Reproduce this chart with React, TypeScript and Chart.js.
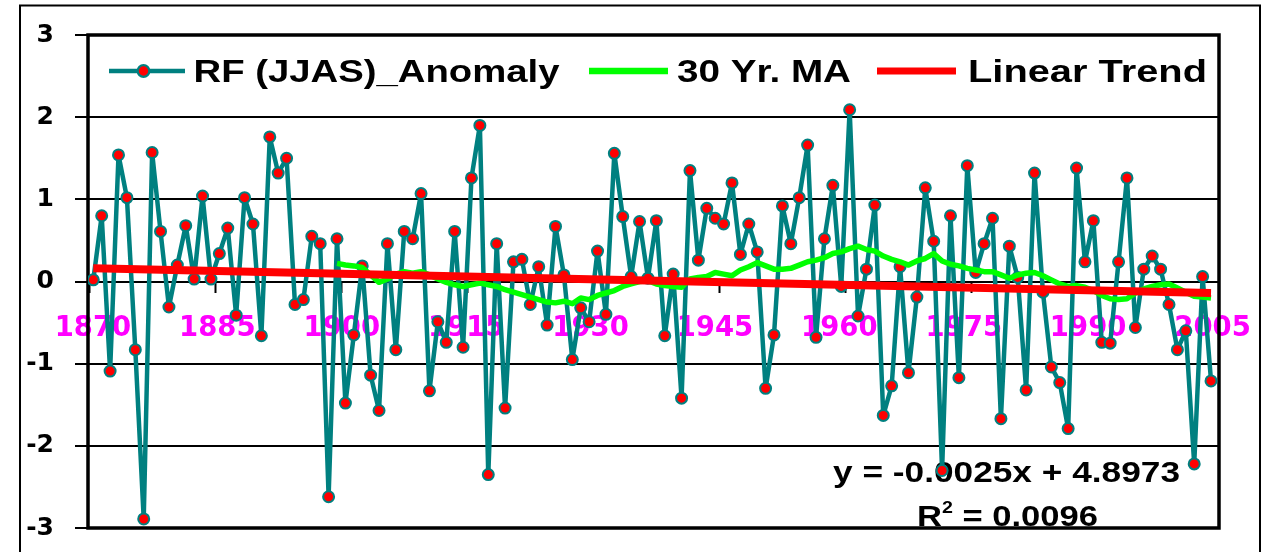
import { useEffect, useRef } from 'react';
import { Chart, registerables } from 'chart.js';

Chart.register(...registerables);

// ---- data -------------------------------------------------------------
// JJAS rainfall anomaly, one value per year starting 1871
const FIRST_YEAR = 1871;
const rfAnomaly = [
  0.02, 0.80, -1.09, 1.54, 1.02, -0.83, -2.89, 1.57, 0.61, -0.31,
  0.20, 0.68, 0.03, 1.04, 0.03, 0.34, 0.65, -0.41, 1.02, 0.70,
  -0.66, 1.76, 1.32, 1.50, -0.28, -0.22, 0.55, 0.46, -2.62, 0.52,
  -1.48, -0.65, 0.19, -1.14, -1.57, 0.46, -0.83, 0.61, 0.52, 1.07,
  -1.33, -0.49, -0.74, 0.61, -0.80, 1.26, 1.90, -2.35, 0.46, -1.54,
  0.24, 0.27, -0.28, 0.18, -0.53, 0.67, 0.08, -0.95, -0.32, -0.49,
  0.37, -0.40, 1.56, 0.79, 0.06, 0.73, 0.04, 0.74, -0.66, 0.09,
  -1.42, 1.35, 0.26, 0.89, 0.77, 0.70, 1.20, 0.33, 0.70, 0.36,
  -1.30, -0.65, 0.92, 0.46, 1.02, 1.66, -0.68, 0.52, 1.17, -0.06,
  2.09, -0.42, 0.15, 0.93, -1.63, -1.27, 0.18, -1.11, -0.19, 1.14,
  0.49, -2.30, 0.80, -1.17, 1.41, 0.11, 0.46, 0.77, -1.67, 0.43,
  0.05, -1.32, 1.32, -0.13, -1.04, -1.23, -1.79, 1.38, 0.24, 0.74,
  -0.74, -0.75, 0.24, 1.26, -0.56, 0.15, 0.31, 0.15, -0.28, -0.83,
  -0.60, -2.22, 0.06, -1.21,
];

// 30-year moving average, first value at 1900
const MA_START_YEAR = 1900;
const movingAvg30 = [
  0.22, 0.20, 0.19, 0.17, 0.08, -0.01, 0.03, 0.09, 0.12, 0.10,
  0.12, 0.08, 0.03, -0.01, -0.04, -0.06, -0.04, -0.02, -0.04, -0.06,
  -0.10, -0.13, -0.16, -0.19, -0.22, -0.25, -0.26, -0.24, -0.27, -0.20,
  -0.22, -0.17, -0.14, -0.11, -0.06, -0.03, 0.00, 0.01, -0.03, -0.05,
  -0.06, -0.07, 0.03, 0.05, 0.06, 0.11, 0.09, 0.07, 0.14, 0.18,
  0.23, 0.19, 0.15, 0.15, 0.16, 0.20, 0.24, 0.26, 0.29, 0.34,
  0.36, 0.40, 0.43, 0.39, 0.37, 0.31, 0.27, 0.24, 0.20, 0.25,
  0.28, 0.34, 0.25, 0.21, 0.19, 0.16, 0.14, 0.12, 0.12, 0.08,
  0.04, 0.08, 0.10, 0.11, 0.07, 0.02, -0.03, -0.06, -0.05, -0.07,
  -0.11, -0.17, -0.21, -0.22, -0.21, -0.14, -0.09, -0.06, -0.04, -0.03,
  -0.08, -0.13, -0.18, -0.19, -0.20,
];

// linear trend end points
const trendYears = [1871, 2004];
const trendValues = [0.16, -0.14];

// axis labels
const yearTickLabels = [1870, 1885, 1900, 1915, 1930, 1945, 1960, 1975, 1990, 2005];
const Y_MIN = -3;
const Y_MAX = 3;

const legendLabels = ['RF (JJAS)_Anomaly', '30 Yr. MA', 'Linear Trend'];
const equationText = 'y = -0.0025x + 4.8973';
const rSquaredValue = '0.0096';

// ---- styling / layout -------------------------------------------------
const W = 1263;
const H = 552;
const TEAL = '#008080';
const MARKER_RED = '#FF0000';
const MA_GREEN = '#00FF00';
const TREND_RED = '#FF0000';
const MAGENTA = '#FF00FF';
const TEXT_FONT = '"Liberation Sans", Arial, Helvetica, sans-serif';
const TICK_FONT = '"DejaVu Sans", "Liberation Sans", sans-serif';

type Run = { text: string; size: number; rise?: number };

// Bold text squeezed/stretched horizontally to a given width
function drawRuns(
  ctx: CanvasRenderingContext2D,
  runs: Run[],
  left: number,
  baseline: number,
  width: number,
  color = '#000'
) {
  let natural = 0;
  for (const r of runs) {
    ctx.font = `bold ${r.size}px ${TEXT_FONT}`;
    natural += ctx.measureText(r.text).width;
  }
  const sx = width / natural;
  ctx.save();
  ctx.translate(left, baseline);
  ctx.scale(sx, 1);
  ctx.fillStyle = color;
  ctx.textAlign = 'left';
  ctx.textBaseline = 'alphabetic';
  let cx = 0;
  for (const r of runs) {
    ctx.font = `bold ${r.size}px ${TEXT_FONT}`;
    ctx.fillText(r.text, cx, -(r.rise || 0));
    cx += ctx.measureText(r.text).width;
  }
  ctx.restore();
}

// plot frame and regression text sit under the series
const framePlugin = {
  id: 'frameAndEquation',
  beforeDatasetsDraw(chart: any) {
    const { ctx, chartArea: a } = chart;
    ctx.save();
    ctx.strokeStyle = '#000';
    ctx.lineWidth = 3.5;
    ctx.strokeRect(a.left, a.top, a.right - a.left, a.bottom - a.top);
    ctx.restore();

    drawRuns(ctx, [{ text: equationText, size: 30 }], 833, 481.5, 347);
    drawRuns(
      ctx,
      [
        { text: 'R', size: 30 },
        { text: '2', size: 17, rise: 13 },
        { text: ' = ' + rSquaredValue, size: 30 },
      ],
      917,
      526,
      181
    );
  },
};

// legend row and outer chart border on top
const overlayPlugin = {
  id: 'legendAndBorder',
  afterDraw(chart: any) {
    const { ctx } = chart;
    const ly = 71;
    ctx.save();
    ctx.lineCap = 'butt';

    // anomaly: line with marker
    ctx.strokeStyle = TEAL;
    ctx.lineWidth = 4.5;
    ctx.beginPath();
    ctx.moveTo(109, ly);
    ctx.lineTo(185, ly);
    ctx.stroke();
    ctx.beginPath();
    ctx.arc(143.5, ly, 5.8, 0, Math.PI * 2);
    ctx.fillStyle = MARKER_RED;
    ctx.fill();
    ctx.lineWidth = 2.2;
    ctx.strokeStyle = TEAL;
    ctx.stroke();

    // moving average
    ctx.strokeStyle = MA_GREEN;
    ctx.lineWidth = 6.5;
    ctx.beginPath();
    ctx.moveTo(589, ly);
    ctx.lineTo(668, ly);
    ctx.stroke();

    // trend
    ctx.strokeStyle = TREND_RED;
    ctx.lineWidth = 7;
    ctx.beginPath();
    ctx.moveTo(877, ly);
    ctx.lineTo(956, ly);
    ctx.stroke();
    ctx.restore();

    drawRuns(ctx, [{ text: legendLabels[0], size: 31 }], 193.5, 81.5, 366);
    drawRuns(ctx, [{ text: legendLabels[1], size: 31 }], 677, 81.5, 174);
    drawRuns(ctx, [{ text: legendLabels[2], size: 31 }], 968, 81.5, 239);

    ctx.save();
    ctx.strokeStyle = '#000';
    ctx.lineWidth = 2;
    ctx.strokeRect(20, 5.5, 1240, 600);
    ctx.restore();
  },
};

// keep label overhang from shrinking the plot area
const noOverhang = (scale: any) => {
  scale.paddingLeft = 0;
  scale.paddingRight = 0;
  scale.paddingTop = 0;
  scale.paddingBottom = 0;
};

export default function App() {
  const canvasRef = useRef<HTMLCanvasElement>(null);

  useEffect(() => {
    const canvas = canvasRef.current;
    if (!canvas) return;

    const anomalyPoints = rfAnomaly.map((v, i) => ({ x: FIRST_YEAR + i, y: v }));
    const maPoints = movingAvg30.map((v, i) => ({ x: MA_START_YEAR + i, y: v }));
    const trendPoints = trendValues.map((v, i) => ({ x: trendYears[i], y: v }));

    const chart = new Chart(canvas, {
      type: 'line',
      data: {
        datasets: [
          {
            label: legendLabels[0],
            data: anomalyPoints,
            borderColor: TEAL,
            borderWidth: 4.5,
            borderJoinStyle: 'round',
            pointRadius: 5.5,
            pointBorderWidth: 2,
            pointBackgroundColor: MARKER_RED,
            pointBorderColor: TEAL,
            tension: 0,
            order: 3,
          },
          {
            label: legendLabels[1],
            data: maPoints,
            borderColor: MA_GREEN,
            borderWidth: 5.5,
            borderJoinStyle: 'round',
            pointRadius: 0,
            tension: 0,
            order: 2,
          },
          {
            label: legendLabels[2],
            data: trendPoints,
            borderColor: TREND_RED,
            borderWidth: 8,
            pointRadius: 0,
            tension: 0,
            order: 1,
          },
        ],
      },
      options: {
        animation: false,
        responsive: false,
        devicePixelRatio: 1,
        events: [],
        layout: { padding: { left: 0, top: 35, right: 44, bottom: 24 } },
        plugins: {
          legend: { display: false },
          tooltip: { enabled: false },
        },
        scales: {
          // series positions; short tick marks every 15 points on the zero line
          x: {
            type: 'linear',
            min: 1870.37,
            max: 2004.95,
            position: { y: 0 },
            grid: {
              drawOnChartArea: false,
              drawTicks: true,
              tickLength: 11,
              tickWidth: 2,
              tickColor: '#000',
            },
            border: { display: false },
            ticks: { display: false, padding: 0 },
            afterBuildTicks: (scale: any) => {
              const marks = [];
              for (let k = 0; k <= 9; k++) marks.push({ value: FIRST_YEAR - 0.5 + 15 * k });
              scale.ticks = marks.filter((t) => t.value <= scale.max);
            },
            afterFit: noOverhang,
          },
          // year labels along the zero line
          years: {
            type: 'linear',
            axis: 'x',
            min: 1869.4,
            max: 2005.78,
            position: { y: 0 },
            z: 1,
            grid: { display: false, drawTicks: true, tickLength: 31 },
            border: { display: false },
            ticks: {
              autoSkip: false,
              maxRotation: 0,
              minRotation: 0,
              padding: 0,
              color: MAGENTA,
              font: { family: TICK_FONT, weight: 'bold', size: 27.5 },
              callback: (v: any) => String(v),
            },
            afterBuildTicks: (scale: any) => {
              scale.ticks = yearTickLabels.map((v) => ({ value: v }));
            },
            afterFit: noOverhang,
          },
          y: {
            type: 'linear',
            min: Y_MIN,
            max: Y_MAX,
            position: 'left',
            grid: {
              color: '#000',
              lineWidth: 2,
              tickLength: 13,
              tickWidth: 2,
              tickColor: '#000',
            },
            border: { display: false },
            ticks: {
              stepSize: 1,
              padding: 21,
              color: '#000',
              font: { family: TICK_FONT, weight: 'bold', size: 25 },
            },
            afterFit: (scale: any) => {
              scale.width = 88;
              noOverhang(scale);
            },
          },
        },
      } as any,
      plugins: [framePlugin, overlayPlugin],
    });

    return () => chart.destroy();
  }, []);

  return (
    <div style={{ position: 'absolute', left: 0, top: 0, width: W, height: H, background: '#fff' }}>
      <canvas ref={canvasRef} width={W} height={H} style={{ display: 'block', width: W, height: H }} />
    </div>
  );
}
